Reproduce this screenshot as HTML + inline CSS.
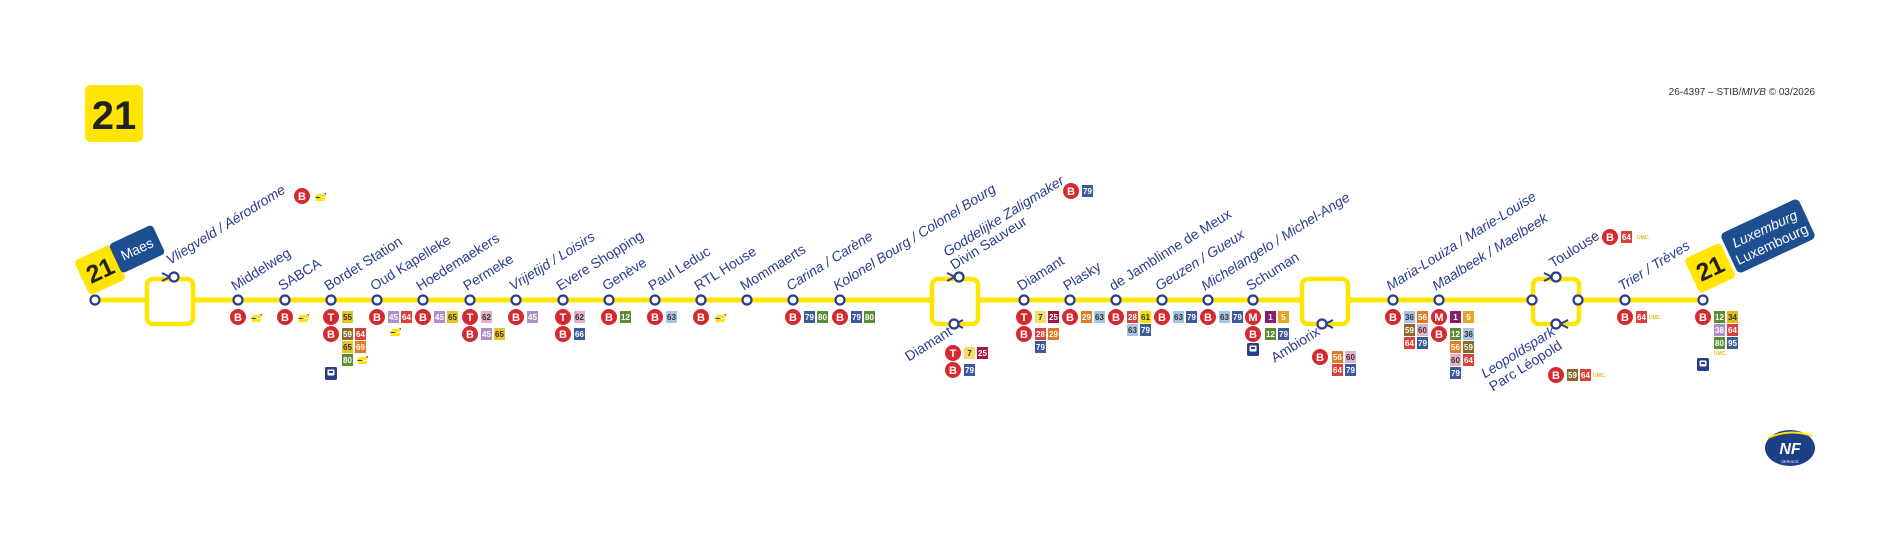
<!DOCTYPE html>
<html><head><meta charset="utf-8"><style>
html,body{margin:0;padding:0;background:#fff;}
svg{display:block;}
.l{font-family:"Liberation Sans",sans-serif;font-size:14px;fill:#2a3d8c;}
.i{font-style:italic;}
.c{font-family:"Liberation Sans",sans-serif;font-size:11px;font-weight:bold;fill:#fff;text-anchor:middle;}
.n{font-family:"Liberation Sans",sans-serif;font-size:8px;font-weight:bold;text-anchor:middle;}
.w{fill:#fff}.d{fill:#333}
.u{font-family:"Liberation Sans",sans-serif;font-size:5px;font-weight:bold;fill:#e8b916;}
.st{fill:#fff;stroke:#2a3d8c;stroke-width:2.2;}
</style></head><body>
<svg width="1899" height="550" viewBox="0 0 1899 550" xmlns="http://www.w3.org/2000/svg">
<defs>
<g id="tr"><rect x="-6" y="-7" width="12" height="13" rx="1.5" fill="#2a3d8c"/><rect x="-3.5" y="-4.5" width="7" height="6" rx="1" fill="#fff"/><rect x="-2" y="-3" width="4" height="2" fill="#2a3d8c"/></g>
<g id="pl"><path d="M-5 1 L6 -3 L6 -1 L-3 3 Z" fill="#2a3d8c"/><rect x="-4" y="-2" width="9" height="3" fill="#ffe500" transform="skewX(-20)"/><rect x="-3" y="2" width="9" height="3" fill="#ffe500" transform="skewX(-20)"/></g>
</defs>
<rect x="85" y="85" width="58" height="57" rx="6" fill="#ffe500"/>
<text x="114" y="129" font-family="Liberation Sans,sans-serif" font-size="40" font-weight="bold" fill="#222" text-anchor="middle">21</text>
<text x="1815" y="95" font-family="Liberation Sans,sans-serif" font-size="10" fill="#333" text-anchor="end">26-4397 – STIB/<tspan font-style="italic">MIVB</tspan> © 03/2026</text>

<rect x="95" y="297.5" width="1608" height="5" fill="#ffe500"/>
<g fill="none" stroke="#ffe500" stroke-width="4.5">
<rect x="147" y="279" width="46" height="45" rx="6" fill="#fff"/>
<rect x="932" y="279" width="46" height="45" rx="6" fill="#fff"/>
<rect x="1302" y="279" width="46" height="45" rx="6" fill="#fff"/>
<rect x="1533" y="279" width="46" height="45" rx="6" fill="#fff"/>
</g>
<g stroke="#2a3d8c" stroke-width="2" fill="none">
<path d="M162 273 L170 277 L162 281"/>
<path d="M947 273 L955 277 L947 281"/>
<path d="M963 320 L955 324 L963 328"/>
<path d="M1333 320 L1325 324 L1333 328"/>
<path d="M1544 273 L1552 277 L1544 281"/>
<path d="M1568 320 L1560 324 L1568 328"/>
</g>
<g class="st">
<circle cx="95" cy="300" r="4.5"/><circle cx="174" cy="277" r="4.5"/>
<circle cx="238" cy="300" r="4.5"/><circle cx="285" cy="300" r="4.5"/><circle cx="331" cy="300" r="4.5"/><circle cx="377" cy="300" r="4.5"/><circle cx="423" cy="300" r="4.5"/><circle cx="470" cy="300" r="4.5"/><circle cx="516" cy="300" r="4.5"/><circle cx="563" cy="300" r="4.5"/><circle cx="609" cy="300" r="4.5"/><circle cx="655" cy="300" r="4.5"/><circle cx="701" cy="300" r="4.5"/><circle cx="747" cy="300" r="4.5"/><circle cx="793" cy="300" r="4.5"/><circle cx="840" cy="300" r="4.5"/>
<circle cx="959" cy="277" r="4.5"/><circle cx="954" cy="324" r="4.5"/>
<circle cx="1024" cy="300" r="4.5"/><circle cx="1070" cy="300" r="4.5"/><circle cx="1116" cy="300" r="4.5"/><circle cx="1162" cy="300" r="4.5"/><circle cx="1208" cy="300" r="4.5"/><circle cx="1253" cy="300" r="4.5"/>
<circle cx="1322" cy="324" r="4.5"/>
<circle cx="1393" cy="300" r="4.5"/><circle cx="1439" cy="300" r="4.5"/>
<circle cx="1532" cy="300" r="4.5"/><circle cx="1578" cy="300" r="4.5"/><circle cx="1556" cy="277" r="4.5"/><circle cx="1556" cy="324" r="4.5"/>
<circle cx="1625" cy="300" r="4.5"/><circle cx="1703" cy="300" r="4.5"/>
</g>

<g transform="translate(100,270) rotate(-25)"><rect x="-20" y="-19" width="40" height="38" rx="4" fill="#ffe500"/><text x="0" y="9" font-family="Liberation Sans,sans-serif" font-size="25" font-weight="bold" fill="#222" text-anchor="middle">21</text></g>
<g transform="translate(137,249) rotate(-25)"><rect x="-24" y="-16" width="48" height="32" rx="4" fill="#1d4e8f"/><text x="0" y="5" font-family="Liberation Sans,sans-serif" font-size="14" fill="#fff" text-anchor="middle">Maes</text></g>
<g transform="translate(1710,268) rotate(-25)"><rect x="-20" y="-19" width="40" height="38" rx="4" fill="#ffe500"/><text x="0" y="9" font-family="Liberation Sans,sans-serif" font-size="25" font-weight="bold" fill="#222" text-anchor="middle">21</text></g>
<g transform="translate(1768,236) rotate(-25)"><rect x="-43" y="-22" width="86" height="44" rx="5" fill="#1d4e8f"/><text x="0" y="-3" font-family="Liberation Sans,sans-serif" font-size="14" font-style="italic" fill="#fff" text-anchor="middle">Luxemburg</text><text x="0" y="14" font-family="Liberation Sans,sans-serif" font-size="14" fill="#fff" text-anchor="middle">Luxembourg</text></g>

<text class="l i" transform="translate(170,265) rotate(-32)">Vliegveld / Aérodrome</text>
<text class="l" transform="translate(235,291) rotate(-32)">Middelweg</text>
<text class="l" transform="translate(282,291) rotate(-32)">SABCA</text>
<text class="l" transform="translate(328,291) rotate(-32)">Bordet Station</text>
<text class="l" transform="translate(374,291) rotate(-32)">Oud Kapelleke</text>
<text class="l" transform="translate(420,291) rotate(-32)">Hoedemaekers</text>
<text class="l" transform="translate(467,291) rotate(-32)">Permeke</text>
<text class="l i" transform="translate(513,291) rotate(-32)">Vrijetijd / Loisirs</text>
<text class="l" transform="translate(560,291) rotate(-32)">Evere Shopping</text>
<text class="l" transform="translate(606,291) rotate(-32)">Genève</text>
<text class="l" transform="translate(652,291) rotate(-32)">Paul Leduc</text>
<text class="l" transform="translate(698,291) rotate(-32)">RTL House</text>
<text class="l" transform="translate(744,291) rotate(-32)">Mommaerts</text>
<text class="l i" transform="translate(790,291) rotate(-32)">Carina / Carène</text>
<text class="l i" transform="translate(837,291) rotate(-32)">Kolonel Bourg / Colonel Bourg</text>
<text class="l i" transform="translate(947,257) rotate(-32)">Goddelijke Zaligmaker</text>
<text class="l" transform="translate(954,270) rotate(-32)">Divin Sauveur</text>
<text class="l" text-anchor="end" transform="translate(953,334) rotate(-32)">Diamant</text>
<text class="l" transform="translate(1021,291) rotate(-32)">Diamant</text>
<text class="l" transform="translate(1067,291) rotate(-32)">Plasky</text>
<text class="l" transform="translate(1113,291) rotate(-32)">de Jamblinne de Meux</text>
<text class="l i" transform="translate(1159,291) rotate(-32)">Geuzen / Gueux</text>
<text class="l i" transform="translate(1205,291) rotate(-32)">Michelangelo / Michel-Ange</text>
<text class="l" transform="translate(1250,291) rotate(-32)">Schuman</text>
<text class="l" text-anchor="end" transform="translate(1321,334) rotate(-32)">Ambiorix</text>
<text class="l i" transform="translate(1390,291) rotate(-32)">Maria-Louiza / Marie-Louise</text>
<text class="l i" transform="translate(1436,291) rotate(-32)">Maalbeek / Maelbeek</text>
<text class="l" transform="translate(1553,268) rotate(-32)">Toulouse</text>
<text class="l i" text-anchor="end" transform="translate(1556,334) rotate(-32)">Leopoldspark</text>
<text class="l" text-anchor="end" transform="translate(1563,348) rotate(-32)">Parc Léopold</text>
<text class="l i" transform="translate(1622,291) rotate(-32)">Trier / Trèves</text>

<g fill="#d5282f">
<circle cx="302" cy="196" r="8"/>
<circle cx="238" cy="317" r="8"/><circle cx="285" cy="317" r="8"/>
<circle cx="331" cy="317" r="8"/><circle cx="331" cy="334" r="8"/>
<circle cx="377" cy="317" r="8"/><circle cx="423" cy="317" r="8"/>
<circle cx="470" cy="317" r="8"/><circle cx="470" cy="334" r="8"/>
<circle cx="516" cy="317" r="8"/>
<circle cx="563" cy="317" r="8"/><circle cx="563" cy="334" r="8"/>
<circle cx="609" cy="317" r="8"/><circle cx="655" cy="317" r="8"/><circle cx="701" cy="317" r="8"/>
<circle cx="793" cy="317" r="8"/><circle cx="840" cy="317" r="8"/>
<circle cx="1071" cy="191" r="8"/>
<circle cx="953" cy="353" r="8"/><circle cx="953" cy="370" r="8"/>
<circle cx="1024" cy="317" r="8"/><circle cx="1024" cy="334" r="8"/>
<circle cx="1070" cy="317" r="8"/><circle cx="1116" cy="317" r="8"/><circle cx="1162" cy="317" r="8"/><circle cx="1208" cy="317" r="8"/>
<circle cx="1253" cy="317" r="8"/><circle cx="1253" cy="334" r="8"/>
<circle cx="1320" cy="357" r="8"/>
<circle cx="1393" cy="317" r="8"/>
<circle cx="1439" cy="317" r="8"/><circle cx="1439" cy="334" r="8"/>
<circle cx="1610" cy="237" r="8"/>
<circle cx="1556" cy="375" r="8"/>
<circle cx="1625" cy="317" r="8"/><circle cx="1703" cy="317" r="8"/>
</g>
<g class="c">
<text x="302" y="200">B</text>
<text x="238" y="321">B</text><text x="285" y="321">B</text>
<text x="331" y="321">T</text><text x="331" y="338">B</text>
<text x="377" y="321">B</text><text x="423" y="321">B</text>
<text x="470" y="321">T</text><text x="470" y="338">B</text>
<text x="516" y="321">B</text>
<text x="563" y="321">T</text><text x="563" y="338">B</text>
<text x="609" y="321">B</text><text x="655" y="321">B</text><text x="701" y="321">B</text>
<text x="793" y="321">B</text><text x="840" y="321">B</text>
<text x="1071" y="195">B</text>
<text x="953" y="357">T</text><text x="953" y="374">B</text>
<text x="1024" y="321">T</text><text x="1024" y="338">B</text>
<text x="1070" y="321">B</text><text x="1116" y="321">B</text><text x="1162" y="321">B</text><text x="1208" y="321">B</text>
<text x="1253" y="321">M</text><text x="1253" y="338">B</text>
<text x="1320" y="361">B</text>
<text x="1393" y="321">B</text>
<text x="1439" y="321">M</text><text x="1439" y="338">B</text>
<text x="1610" y="241">B</text>
<text x="1556" y="379">B</text>
<text x="1625" y="321">B</text><text x="1703" y="321">B</text>
</g>

<use href="#pl" x="320" y="196"/><use href="#pl" x="256" y="317"/><use href="#pl" x="303" y="317"/>
<use href="#pl" x="362" y="359"/><use href="#pl" x="395" y="331"/><use href="#pl" x="720" y="317"/>
<use href="#tr" x="331" y="374"/><use href="#tr" x="1253" y="350"/><use href="#tr" x="1703" y="365"/>
<text class="u" x="1637" y="239">UMC.</text>
<text class="u" x="1593" y="377">UMC.</text>
<text class="u" x="1649" y="319">UMC.</text>
<text class="u" x="1714" y="355">UMC.</text>

<g font-family="Liberation Sans,sans-serif">
<rect x="342" y="311" width="11" height="12" fill="#e8c420"/><text class="n d" x="347.5" y="320">55</text>
<rect x="342" y="328" width="11" height="12" fill="#8b6a2c"/><text class="n w" x="347.5" y="337">59</text>
<rect x="355" y="328" width="11" height="12" fill="#d9413a"/><text class="n w" x="360.5" y="337">64</text>
<rect x="342" y="341" width="11" height="12" fill="#e8c420"/><text class="n d" x="347.5" y="350">65</text>
<rect x="355" y="341" width="11" height="12" fill="#e07b22"/><text class="n w" x="360.5" y="350">69</text>
<rect x="342" y="354" width="11" height="12" fill="#5b8c32"/><text class="n w" x="347.5" y="363">80</text>
<rect x="388" y="311" width="11" height="12" fill="#ae8fc8"/><text class="n w" x="393.5" y="320">45</text>
<rect x="401" y="311" width="11" height="12" fill="#d9413a"/><text class="n w" x="406.5" y="320">64</text>
<rect x="434" y="311" width="11" height="12" fill="#ae8fc8"/><text class="n w" x="439.5" y="320">45</text>
<rect x="447" y="311" width="11" height="12" fill="#e8c420"/><text class="n d" x="452.5" y="320">65</text>
<rect x="481" y="311" width="11" height="12" fill="#e6b0cc"/><text class="n d" x="486.5" y="320">62</text>
<rect x="481" y="328" width="11" height="12" fill="#ae8fc8"/><text class="n w" x="486.5" y="337">45</text>
<rect x="494" y="328" width="11" height="12" fill="#e8c420"/><text class="n d" x="499.5" y="337">65</text>
<rect x="527" y="311" width="11" height="12" fill="#ae8fc8"/><text class="n w" x="532.5" y="320">45</text>
<rect x="574" y="311" width="11" height="12" fill="#e6b0cc"/><text class="n d" x="579.5" y="320">62</text>
<rect x="574" y="328" width="11" height="12" fill="#3d5a9c"/><text class="n w" x="579.5" y="337">66</text>
<rect x="620" y="311" width="11" height="12" fill="#5b8c32"/><text class="n w" x="625.5" y="320">12</text>
<rect x="666" y="311" width="11" height="12" fill="#a8c4e4"/><text class="n d" x="671.5" y="320">63</text>
<rect x="804" y="311" width="11" height="12" fill="#3d5a9c"/><text class="n w" x="809.5" y="320">79</text>
<rect x="817" y="311" width="11" height="12" fill="#5b8c32"/><text class="n w" x="822.5" y="320">80</text>
<rect x="851" y="311" width="11" height="12" fill="#3d5a9c"/><text class="n w" x="856.5" y="320">79</text>
<rect x="864" y="311" width="11" height="12" fill="#5b8c32"/><text class="n w" x="869.5" y="320">80</text>
<rect x="1082" y="185" width="11" height="12" fill="#3d5a9c"/><text class="n w" x="1087.5" y="194">79</text>
<rect x="964" y="347" width="11" height="12" fill="#f0e068"/><text class="n d" x="969.5" y="356">7</text>
<rect x="977" y="347" width="11" height="12" fill="#a3163c"/><text class="n w" x="982.5" y="356">25</text>
<rect x="964" y="364" width="11" height="12" fill="#3d5a9c"/><text class="n w" x="969.5" y="373">79</text>
<rect x="1035" y="311" width="11" height="12" fill="#f0e068"/><text class="n d" x="1040.5" y="320">7</text>
<rect x="1048" y="311" width="11" height="12" fill="#a3163c"/><text class="n w" x="1053.5" y="320">25</text>
<rect x="1035" y="328" width="11" height="12" fill="#d9413a"/><text class="n w" x="1040.5" y="337">28</text>
<rect x="1048" y="328" width="11" height="12" fill="#e07b22"/><text class="n w" x="1053.5" y="337">29</text>
<rect x="1035" y="341" width="11" height="12" fill="#3d5a9c"/><text class="n w" x="1040.5" y="350">79</text>
<rect x="1081" y="311" width="11" height="12" fill="#e07b22"/><text class="n w" x="1086.5" y="320">29</text>
<rect x="1094" y="311" width="11" height="12" fill="#a8c4e4"/><text class="n d" x="1099.5" y="320">63</text>
<rect x="1127" y="311" width="11" height="12" fill="#d9413a"/><text class="n w" x="1132.5" y="320">28</text>
<rect x="1140" y="311" width="11" height="12" fill="#f7dc00"/><text class="n d" x="1145.5" y="320">61</text>
<rect x="1127" y="324" width="11" height="12" fill="#a8c4e4"/><text class="n d" x="1132.5" y="333">63</text>
<rect x="1140" y="324" width="11" height="12" fill="#3d5a9c"/><text class="n w" x="1145.5" y="333">79</text>
<rect x="1173" y="311" width="11" height="12" fill="#a8c4e4"/><text class="n d" x="1178.5" y="320">63</text>
<rect x="1186" y="311" width="11" height="12" fill="#3d5a9c"/><text class="n w" x="1191.5" y="320">79</text>
<rect x="1219" y="311" width="11" height="12" fill="#a8c4e4"/><text class="n d" x="1224.5" y="320">63</text>
<rect x="1232" y="311" width="11" height="12" fill="#3d5a9c"/><text class="n w" x="1237.5" y="320">79</text>
<rect x="1265" y="311" width="11" height="12" fill="#8e1a6e"/><text class="n w" x="1270.5" y="320">1</text>
<rect x="1278" y="311" width="11" height="12" fill="#e8a420"/><text class="n w" x="1283.5" y="320">5</text>
<rect x="1265" y="328" width="11" height="12" fill="#5b8c32"/><text class="n w" x="1270.5" y="337">12</text>
<rect x="1278" y="328" width="11" height="12" fill="#3d5a9c"/><text class="n w" x="1283.5" y="337">79</text>
<rect x="1332" y="351" width="11" height="12" fill="#e07b22"/><text class="n w" x="1337.5" y="360">56</text>
<rect x="1345" y="351" width="11" height="12" fill="#e6b0cc"/><text class="n d" x="1350.5" y="360">60</text>
<rect x="1332" y="364" width="11" height="12" fill="#d9413a"/><text class="n w" x="1337.5" y="373">64</text>
<rect x="1345" y="364" width="11" height="12" fill="#3d5a9c"/><text class="n w" x="1350.5" y="373">79</text>
<rect x="1404" y="311" width="11" height="12" fill="#a8c4e4"/><text class="n d" x="1409.5" y="320">36</text>
<rect x="1417" y="311" width="11" height="12" fill="#e07b22"/><text class="n w" x="1422.5" y="320">56</text>
<rect x="1404" y="324" width="11" height="12" fill="#8b6a2c"/><text class="n w" x="1409.5" y="333">59</text>
<rect x="1417" y="324" width="11" height="12" fill="#e6b0cc"/><text class="n d" x="1422.5" y="333">60</text>
<rect x="1404" y="337" width="11" height="12" fill="#d9413a"/><text class="n w" x="1409.5" y="346">64</text>
<rect x="1417" y="337" width="11" height="12" fill="#3d5a9c"/><text class="n w" x="1422.5" y="346">79</text>
<rect x="1450" y="311" width="11" height="12" fill="#8e1a6e"/><text class="n w" x="1455.5" y="320">1</text>
<rect x="1463" y="311" width="11" height="12" fill="#e8a420"/><text class="n w" x="1468.5" y="320">5</text>
<rect x="1450" y="328" width="11" height="12" fill="#5b8c32"/><text class="n w" x="1455.5" y="337">12</text>
<rect x="1463" y="328" width="11" height="12" fill="#a8c4e4"/><text class="n d" x="1468.5" y="337">36</text>
<rect x="1450" y="341" width="11" height="12" fill="#e07b22"/><text class="n w" x="1455.5" y="350">56</text>
<rect x="1463" y="341" width="11" height="12" fill="#8b6a2c"/><text class="n w" x="1468.5" y="350">59</text>
<rect x="1450" y="354" width="11" height="12" fill="#e6b0cc"/><text class="n d" x="1455.5" y="363">60</text>
<rect x="1463" y="354" width="11" height="12" fill="#d9413a"/><text class="n w" x="1468.5" y="363">64</text>
<rect x="1450" y="367" width="11" height="12" fill="#3d5a9c"/><text class="n w" x="1455.5" y="376">79</text>
<rect x="1621" y="231" width="11" height="12" fill="#d9413a"/><text class="n w" x="1626.5" y="240">64</text>
<rect x="1567" y="369" width="11" height="12" fill="#8b6a2c"/><text class="n w" x="1572.5" y="378">59</text>
<rect x="1580" y="369" width="11" height="12" fill="#d9413a"/><text class="n w" x="1585.5" y="378">64</text>
<rect x="1636" y="311" width="11" height="12" fill="#d9413a"/><text class="n w" x="1641.5" y="320">64</text>
<rect x="1714" y="311" width="11" height="12" fill="#5b8c32"/><text class="n w" x="1719.5" y="320">12</text>
<rect x="1727" y="311" width="11" height="12" fill="#e8b916"/><text class="n d" x="1732.5" y="320">34</text>
<rect x="1714" y="324" width="11" height="12" fill="#ae8fc8"/><text class="n w" x="1719.5" y="333">38</text>
<rect x="1727" y="324" width="11" height="12" fill="#d9413a"/><text class="n w" x="1732.5" y="333">64</text>
<rect x="1714" y="337" width="11" height="12" fill="#5b8c32"/><text class="n w" x="1719.5" y="346">80</text>
<rect x="1727" y="337" width="11" height="12" fill="#3d5a9c"/><text class="n w" x="1732.5" y="346">95</text>
</g>

<ellipse cx="1790" cy="448" rx="25" ry="18" fill="#1d3f85"/>
<path d="M1768 438 Q1790 428 1812 436" stroke="#ffe500" stroke-width="2" fill="none"/>
<text x="1790" y="454" font-family="Liberation Sans,sans-serif" font-size="16" font-weight="bold" font-style="italic" fill="#fff" text-anchor="middle">NF</text>
<text x="1790" y="463" font-family="Liberation Sans,sans-serif" font-size="4" fill="#fff" text-anchor="middle">SERVICE</text>
</svg>
</body></html>
